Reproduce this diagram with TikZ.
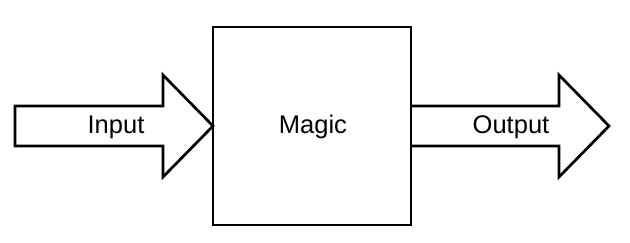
\documentclass[tikz,border=0pt]{standalone}
\usepackage{fontspec}
\setmainfont{Liberation Sans}
\usetikzlibrary{calc}

\begin{document}
\begin{tikzpicture}[x=1pt,y=-1pt,line width=2.7pt,
    lbl/.style={font=\fontsize{25.5}{30}\selectfont,inner sep=0pt,anchor=base}]
  \path[use as bounding box] (0,0) rectangle (630,243);
  % the box in the middle
  \node[draw,minimum width=198pt,minimum height=198pt,outer sep=0pt] (magic) at (312,126) {};
  \node[lbl] (magictext) at (313,134) {Magic};
  % arrow going in, tip on the box
  \draw (magic.west) -- ++(-50,-51) -- ++(0,31) -- ++(-148,0) -- ++(0,40)
    -- ++(148,0) -- ++(0,31) -- cycle;
  % arrow going out
  \draw ($(magic.east)+(0,-20)$) -- ++(148,0) -- ++(0,-31) -- ++(50,51)
    -- ++(-50,51) -- ++(0,-31) -- ++(-148,0);
  \node[lbl] (input) at (116,134) {Input};
  \node[lbl] (output) at (511,134) {Output};
\end{tikzpicture}
\end{document}
